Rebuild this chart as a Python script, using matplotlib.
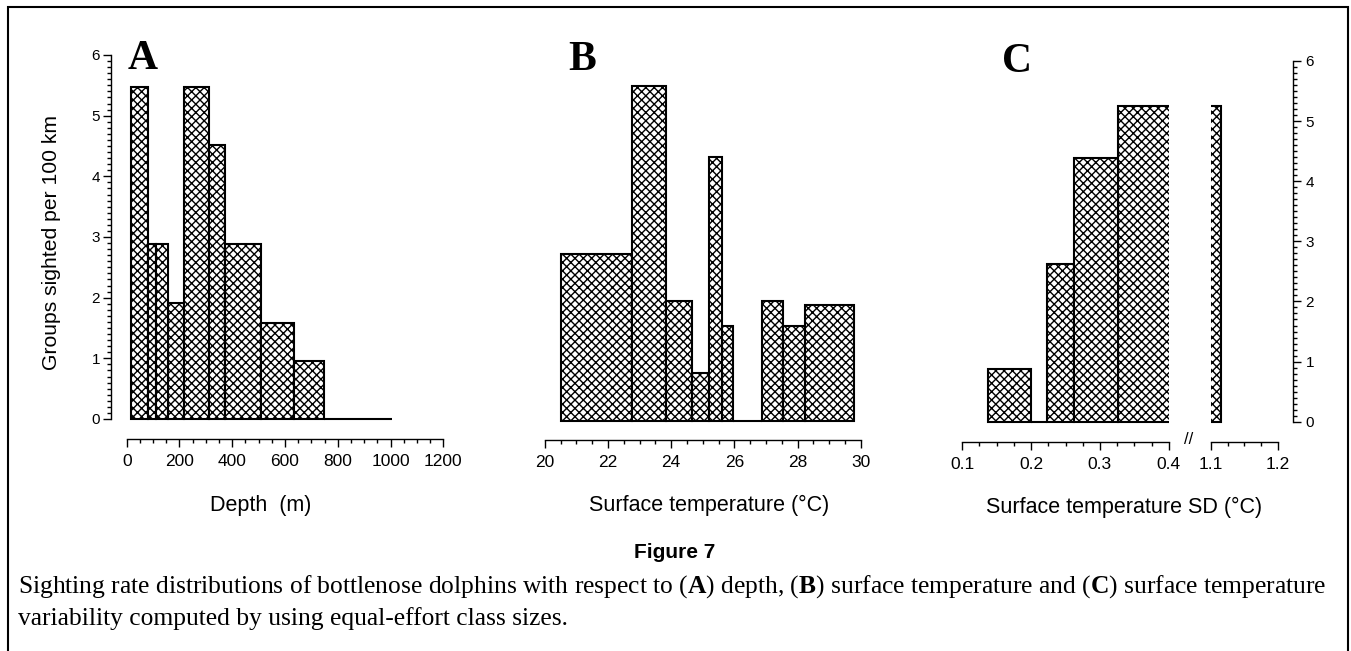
import numpy as np
import matplotlib
matplotlib.use('Agg')
import matplotlib.pyplot as plt
from matplotlib.ticker import FixedLocator, NullLocator
from matplotlib.patches import Rectangle

W, H = 1351, 651
plt.rcParams['font.family'] = ['Liberation Sans', 'DejaVu Sans']
plt.rcParams['hatch.linewidth'] = 1.0
plt.rcParams['mathtext.fontset'] = 'custom'
plt.rcParams['mathtext.rm'] = 'Liberation Serif'
plt.rcParams['mathtext.bf'] = 'Liberation Serif:bold'

# ---- data ----
depth_edges = [15, 82, 111, 158, 217, 313, 373, 508, 635, 749, 1004]
depth_rate = [5.47, 2.88, 2.88, 1.91, 5.47, 4.51, 2.88, 1.59, 0.95, 0.0]

temp_edges = [20.51, 22.76, 23.84, 24.65, 25.20, 25.62, 25.97, 26.88, 27.53, 28.24, 29.78]
temp_rate = [2.75, 5.53, 1.97, 0.79, 4.35, 1.57, 0.0, 1.97, 1.57, 1.91]

sd_edges = [0.138, 0.200, 0.2226, 0.263, 0.326, 1.1145]
sd_rate = [0.87, 0.0, 2.62, 4.38, 5.25]

depth_ticks = [0, 200, 400, 600, 800, 1000, 1200]
temp_ticks = [20, 22, 24, 26, 28, 30]
sd_ticks_low = [0.1, 0.2, 0.3, 0.4]
sd_ticks_high = [1.1, 1.2]
rate_ticks = [0, 1, 2, 3, 4, 5, 6]

fig = plt.figure(figsize=(W / 100, H / 100), dpi=100)


def px_axes(x0, x1, ytop, ybot):
    return fig.add_axes([x0 / W, 1 - ybot / H, (x1 - x0) / W, (ybot - ytop) / H])


def draw_bars(ax, edges, vals):
    edges = np.asarray(edges, dtype=float)
    ax.bar(edges[:-1], vals, width=np.diff(edges), align='edge',
           facecolor='white', edgecolor='black', linewidth=1.5, hatch='xxxx')


def minor_between(a, b, step):
    n = int(round((b - a) / step))
    return FixedLocator([a + i * step for i in range(n + 1)])


def style(ax):
    ax.patch.set_visible(False)
    for s in ax.spines.values():
        s.set_linewidth(1.0)
    ax.tick_params(which='major', direction='out', length=6, width=1.0,
                   labelsize=12.5, pad=5)
    ax.tick_params(which='minor', direction='out', length=3, width=1.0)


# ---- Panel A ----
axA = px_axes(111, 443.3, 55, 439)
draw_bars(axA, depth_edges, depth_rate)
axA.set_xlim(-59.5, 1200)
axA.set_ylim(-0.33, 6)
style(axA)
axA.spines['top'].set_visible(False)
axA.spines['right'].set_visible(False)
axA.spines['left'].set_bounds(0, 6)
axA.spines['bottom'].set_bounds(0, 1200)
axA.xaxis.set_major_locator(FixedLocator(depth_ticks))
axA.xaxis.set_minor_locator(minor_between(0, 1200, 50))
axA.yaxis.set_major_locator(FixedLocator(rate_ticks))
axA.yaxis.set_minor_locator(minor_between(0, 6, 0.1))
axA.tick_params(axis='y', labelsize=11, pad=2)

# ---- Panel B ----
axB = px_axes(544.7, 860.7, 57, 440)
draw_bars(axB, temp_edges, temp_rate)
axB.set_xlim(20, 30)
axB.set_ylim(-0.313, 6)
style(axB)
for s in ('top', 'right', 'left'):
    axB.spines[s].set_visible(False)
axB.spines['bottom'].set_bounds(20, 30)
axB.xaxis.set_major_locator(FixedLocator(temp_ticks))
axB.xaxis.set_minor_locator(minor_between(20, 30, 0.5))
axB.yaxis.set_major_locator(NullLocator())

# ---- Panel C (broken x axis) ----
axC1 = px_axes(962.3, 1168.7, 61, 441.7)
draw_bars(axC1, sd_edges, sd_rate)
axC1.set_xlim(0.1, 0.4)
axC1.set_ylim(-0.333, 6)
style(axC1)
for s in ('top', 'right', 'left'):
    axC1.spines[s].set_visible(False)
axC1.spines['bottom'].set_bounds(0.1, 0.4)
axC1.xaxis.set_major_locator(FixedLocator(sd_ticks_low))
axC1.xaxis.set_minor_locator(minor_between(0.1, 0.4, 0.025))
axC1.yaxis.set_major_locator(NullLocator())

axC2 = px_axes(1211, 1293, 61, 441.7)
draw_bars(axC2, sd_edges, sd_rate)
axC2.set_xlim(1.1, 1.1 + 82 / 667)
axC2.set_ylim(-0.333, 6)
style(axC2)
for s in ('top', 'left'):
    axC2.spines[s].set_visible(False)
axC2.spines['bottom'].set_bounds(1.1, 1.2)
axC2.spines['right'].set_bounds(0, 6)
axC2.xaxis.set_major_locator(FixedLocator(sd_ticks_high))
axC2.xaxis.set_minor_locator(minor_between(1.1, 1.2, 0.025))
axC2.yaxis.tick_right()
axC2.yaxis.set_major_locator(FixedLocator(rate_ticks))
axC2.yaxis.set_minor_locator(minor_between(0, 6, 0.1))
axC2.tick_params(axis='y', which='both', left=False, right=True)
axC2.tick_params(axis='y', labelsize=11, pad=3)


def ftext(x, y, s, **kw):
    return fig.text(x / W, 1 - y / H, s, **kw)


# panel letters
for (x, y, s) in [(128, 69, 'A'), (568, 70, 'B'), (1002, 72, 'C')]:
    ftext(x, y, s, family='Liberation Serif', fontweight='bold', fontsize=30,
          ha='left', va='baseline')

# axis labels
ftext(52, 242, 'Groups sighted per 100 km', rotation=90, ha='center', va='center', fontsize=15.2)
ftext(261, 505, 'Depth  (m)', ha='center', va='center', fontsize=15.5)
ftext(709, 505, 'Surface temperature (°C)', ha='center', va='center', fontsize=15.5)
ftext(1124, 507, 'Surface temperature SD (°C)', ha='center', va='center', fontsize=15.5)

# axis break mark
ftext(1189, 440, '//', ha='center', va='center', fontsize=12)

# caption
ftext(675, 553, 'Figure 7', ha='center', va='center', fontsize=15, fontweight='bold')
ftext(18, 587, r'Sighting rate distributions of bottlenose dolphins with respect to ($\mathbf{A}$) depth, '
      r'($\mathbf{B}$) surface temperature and ($\mathbf{C}$) surface temperature',
      family='Liberation Serif', ha='left', va='center', fontsize=18.4)
ftext(18, 619, 'variability computed by using equal-effort class sizes.',
      family='Liberation Serif', ha='left', va='center', fontsize=18.4)

# frame (bottom edge lies outside the picture)
fig.patches.append(Rectangle((8 / W, 1 - 660 / H), (1348 - 8) / W, (660 - 7) / H,
                             transform=fig.transFigure, fill=False, lw=1.5,
                             edgecolor='black'))

fig.savefig('out.png', dpi=100)
